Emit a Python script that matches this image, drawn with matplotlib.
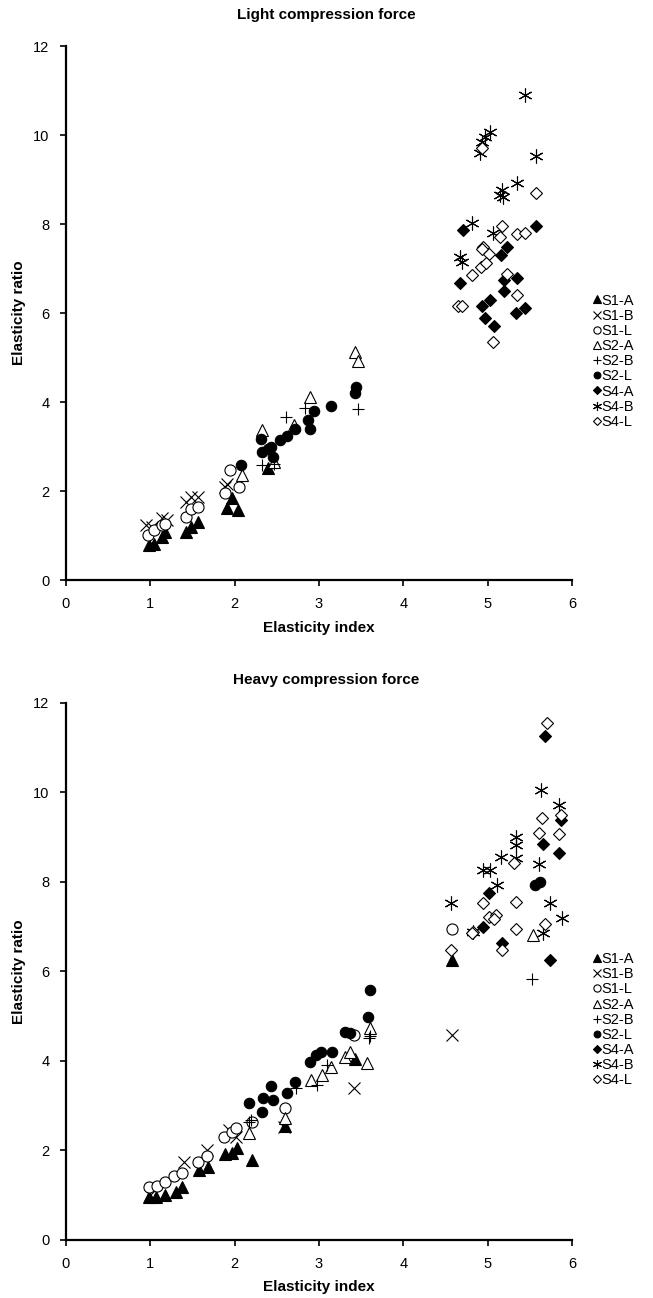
import matplotlib
matplotlib.use("Agg")
import matplotlib.pyplot as plt

plt.rcParams['font.family'] = ['Liberation Sans', 'DejaVu Sans']

series_names = ["S1-A", "S1-B", "S1-L", "S2-A", "S2-B", "S2-L", "S4-A", "S4-B", "S4-L"]

# ---- Light compression force ----
light_x = {
    "S1-A": [0.98, 1.04, 1.14, 1.18, 1.42, 1.48, 1.56, 1.91, 2.04, 1.97, 2.40],
    "S1-B": [0.95, 1.02, 1.14, 1.20, 1.42, 1.48, 1.56, 1.89, 1.91],
    "S1-L": [0.97, 1.04, 1.14, 1.18, 1.42, 1.48, 1.56, 1.89, 1.95, 2.05],
    "S2-A": [2.09, 2.32, 2.47, 2.70, 2.89, 3.43, 3.46],
    "S2-B": [2.33, 2.47, 2.61, 2.84, 3.46],
    "S2-L": [2.08, 2.31, 2.33, 2.40, 2.43, 2.46, 2.54, 2.62, 2.71, 2.87, 2.89, 2.94, 3.14, 3.43, 3.44],
    "S4-A": [4.71, 5.57, 5.16, 5.23, 4.67, 5.19, 5.35, 5.19, 5.03, 4.93, 4.97, 5.07, 5.34, 5.44],
    "S4-B": [5.44, 5.03, 4.97, 4.93, 4.91, 5.57, 5.35, 5.17, 5.15, 5.18, 4.81, 5.06, 4.67, 4.69],
    "S4-L": [4.93, 5.57, 5.17, 5.15, 5.35, 5.44, 4.95, 4.93, 5.02, 4.81, 4.92, 4.98, 5.23, 5.35, 4.65, 4.69, 5.06],
}
light_y = {
    "S1-A": [0.79, 0.82, 0.97, 1.09, 1.09, 1.20, 1.31, 1.62, 1.57, 1.84, 2.51],
    "S1-B": [1.24, 1.20, 1.39, 1.35, 1.76, 1.87, 1.87, 2.10, 2.17],
    "S1-L": [1.01, 1.12, 1.24, 1.27, 1.42, 1.61, 1.65, 1.95, 2.47, 2.10],
    "S2-A": [2.36, 3.37, 2.66, 3.48, 4.12, 5.13, 4.93],
    "S2-B": [2.58, 2.62, 3.66, 3.86, 3.84],
    "S2-L": [2.58, 3.18, 2.88, 2.95, 3.00, 2.76, 3.15, 3.24, 3.39, 3.61, 3.39, 3.80, 3.91, 4.20, 4.34],
    "S4-A": [7.87, 7.96, 7.30, 7.49, 6.67, 6.74, 6.78, 6.49, 6.29, 6.16, 5.88, 5.71, 6.01, 6.12],
    "S4-B": [10.90, 10.07, 9.96, 9.85, 9.59, 9.53, 8.93, 8.76, 8.65, 8.60, 8.02, 7.79, 7.27, 7.15],
    "S4-L": [9.70, 8.70, 7.96, 7.72, 7.78, 7.80, 7.49, 7.43, 7.32, 6.85, 7.03, 7.12, 6.89, 6.40, 6.16, 6.16, 5.36],
}

# ---- Heavy compression force ----
heavy_x = {
    "S1-A": [0.99, 1.07, 1.18, 1.30, 1.38, 1.58, 1.68, 1.89, 1.97, 2.03, 2.21, 2.60, 3.43, 4.58],
    "S1-B": [1.00, 1.40, 1.67, 1.93, 2.02, 2.58, 3.42, 4.58],
    "S1-L": [0.99, 1.08, 1.18, 1.28, 1.38, 1.56, 1.67, 1.87, 1.97, 2.02, 2.21, 2.60, 3.41, 4.58],
    "S2-A": [2.17, 2.60, 2.90, 3.03, 3.14, 3.31, 3.37, 3.57, 3.60, 5.54],
    "S2-B": [2.17, 2.19, 2.73, 2.98, 3.10, 3.59, 3.61, 5.53],
    "S2-L": [2.17, 2.34, 2.43, 2.33, 2.45, 2.62, 2.72, 2.89, 2.96, 3.02, 3.16, 3.31, 3.37, 3.58, 3.60, 5.56, 5.62],
    "S4-A": [5.68, 5.87, 5.65, 5.85, 5.01, 4.95, 5.17, 5.74],
    "S4-B": [5.63, 5.84, 5.33, 5.34, 5.16, 5.34, 5.61, 4.94, 5.03, 5.11, 4.56, 5.74, 5.88, 5.66, 4.83],
    "S4-L": [5.70, 5.64, 5.87, 5.61, 5.84, 5.31, 4.95, 5.33, 5.01, 5.10, 5.07, 4.83, 4.81, 5.34, 5.68, 4.56, 5.17],
}
heavy_y = {
    "S1-A": [0.97, 0.97, 1.00, 1.08, 1.19, 1.56, 1.62, 1.92, 1.94, 2.05, 1.79, 2.55, 4.04, 6.26],
    "S1-B": [1.00, 1.75, 2.01, 2.46, 2.31, 2.53, 3.39, 4.58],
    "S1-L": [1.19, 1.21, 1.30, 1.42, 1.49, 1.75, 1.88, 2.31, 2.42, 2.50, 2.64, 2.94, 4.58, 6.94],
    "S2-A": [2.38, 2.72, 3.58, 3.69, 3.87, 4.10, 4.21, 3.95, 4.73, 6.82],
    "S2-B": [2.64, 2.68, 3.39, 3.46, 3.90, 4.51, 4.56, 5.83],
    "S2-L": [3.05, 3.17, 3.44, 2.87, 3.13, 3.29, 3.54, 3.98, 4.13, 4.21, 4.21, 4.65, 4.62, 4.99, 5.58, 7.93, 8.01],
    "S4-A": [11.26, 9.39, 8.84, 8.65, 7.75, 7.00, 6.64, 6.26],
    "S4-B": [10.06, 9.72, 9.01, 8.83, 8.55, 8.53, 8.40, 8.27, 8.27, 7.93, 7.52, 7.52, 7.19, 6.85, 6.89],
    "S4-L": [11.55, 9.42, 9.50, 9.09, 9.07, 8.43, 7.52, 7.56, 7.22, 7.26, 7.17, 6.89, 6.85, 6.94, 7.06, 6.48, 6.48],
}

# marker, facecolor, size
styles = {
    "S1-A": ('^', 'black', 8.5),
    "S1-B": ('x', 'none', 8),
    "S1-L": ('o', 'white', 8),
    "S2-A": ('^', 'white', 8.5),
    "S2-B": ('+', 'none', 9),
    "S2-L": ('o', 'black', 7.5),
    "S4-A": ('D', 'black', 6),
    "S4-B": ((6, 2, 0), 'none', 10),
    "S4-L": ('D', 'white', 6.5),
}

fig = plt.figure(figsize=(6.53, 12.98), dpi=100)
ax1 = fig.add_axes([0.101, 0.553, 0.775, 0.4115])
ax2 = fig.add_axes([0.101, 0.0447, 0.775, 0.4137])


def draw(ax, xs, ys, title, title_y):
    handles = []
    for name in series_names:
        m, fc, ms = styles[name]
        h, = ax.plot(xs[name], ys[name], linestyle='none', marker=m, markersize=ms,
                     markerfacecolor=fc, markeredgecolor='black', markeredgewidth=0.8,
                     color='black', label=name)
        handles.append(h)
    ax.set_xlim(0, 6)
    ax.set_ylim(0, 12)
    ax.set_xticks(range(0, 7))
    ax.set_yticks(range(0, 13, 2))
    ax.spines['top'].set_visible(False)
    ax.spines['right'].set_visible(False)
    ax.spines['left'].set_linewidth(1.6)
    ax.spines['bottom'].set_linewidth(1.6)
    ax.tick_params(direction='out', length=4, width=1.2, labelsize=10.5, pad=8)
    ax.set_xlabel("Elasticity index", fontsize=11, fontweight='bold', labelpad=7)
    ax.set_ylabel("Elasticity ratio", fontsize=11, fontweight='bold', labelpad=5)
    fig.text(0.5, title_y, title, ha='center', va='center', fontsize=11, fontweight='bold')
    ax.legend(handles=handles, loc='center left', bbox_to_anchor=(1.0, 0.41),
              frameon=False, markerscale=0.65, handlelength=0.4, handletextpad=0.1,
              labelspacing=0.08, fontsize=10.5, borderaxespad=1.1)


draw(ax1, light_x, light_y, "Light compression force", 1 - 15 / 1298)
draw(ax2, heavy_x, heavy_y, "Heavy compression force", 1 - 680 / 1298)

fig.savefig("out.png", dpi=100)
